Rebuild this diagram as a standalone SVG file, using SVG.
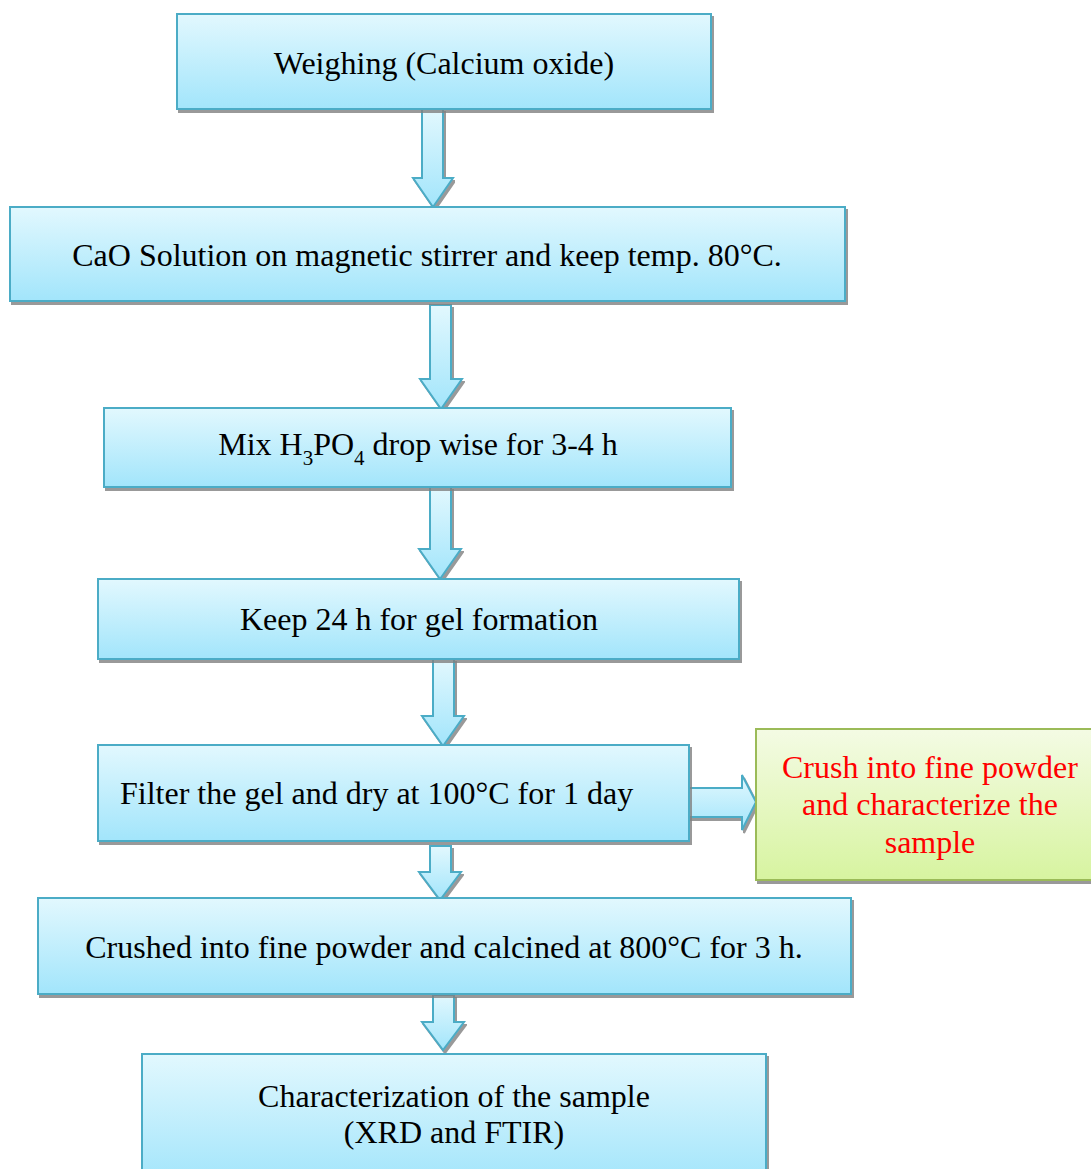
<svg xmlns="http://www.w3.org/2000/svg" width="1091" height="1169" viewBox="0 0 1091 1169">
<defs>
<linearGradient id="blue" x1="0" y1="0" x2="0" y2="1">
<stop offset="0" stop-color="#e2f8fe"/>
<stop offset="1" stop-color="#a2e5fb"/>
</linearGradient>
<linearGradient id="green" x1="0" y1="0" x2="0" y2="1">
<stop offset="0" stop-color="#f4fbe4"/>
<stop offset="1" stop-color="#d7f4a0"/>
</linearGradient>
<filter id="sh" x="-5%" y="-5%" width="110%" height="120%">
<feDropShadow dx="2" dy="3" stdDeviation="0.6" flood-color="#808080" flood-opacity="0.8"/>
</filter>
</defs>
<style>
.box{fill:url(#blue);stroke:#4bacc6;stroke-width:2;filter:url(#sh)}
.gbox{fill:url(#green);stroke:#9bbb59;stroke-width:2;filter:url(#sh)}
.arr{fill:url(#blue);stroke:#4bacc6;stroke-width:2;stroke-linejoin:miter;filter:url(#sh)}
.t{font-family:'Liberation Serif','Times New Roman',serif;font-size:32px;fill:#000;text-anchor:middle}
.s{text-anchor:start}
.r{fill:#ff0000}
</style>
<g id="connectors">
<path class="arr" d="M422,109 H443 V178 H453 L433,207 L413,178 H422 Z"/>
<path class="arr" d="M430,305 H451 V379 H462 L441,409 L420,379 H430 Z"/>
<path class="arr" d="M430,487 H451 V549 H461 L440,579 L419,549 H430 Z"/>
<path class="arr" d="M433,659 H454 V716 H464 L443,746 L422,716 H433 Z"/>
<path class="arr" d="M689,788 H742 V775 L756,802 L742,830 V817 H689 Z"/>
<path class="arr" d="M430,846 H451 V872 H461 L440,900 L419,872 H430 Z"/>
<path class="arr" d="M433,995 H454 V1022 H464 L443,1050 L422,1022 H433 Z"/>
</g>
<g id="n1">
<rect class="box" x="177" y="14" width="534" height="95"/>
<text class="t" x="444" y="74">Weighing (Calcium oxide)</text>
</g>
<g id="n2">
<rect class="box" x="10" y="207" width="835" height="94"/>
<text class="t" x="427" y="266">CaO Solution on magnetic stirrer and keep temp. 80°C.</text>
</g>
<g id="n3">
<rect class="box" x="104" y="408" width="627" height="79"/>
<text class="t" x="418" y="455">Mix H<tspan font-size="21" dy="10">3</tspan><tspan dy="-10">PO</tspan><tspan font-size="21" dy="10">4</tspan><tspan dy="-10"> drop wise for 3-4 h</tspan></text>
</g>
<g id="n4">
<rect class="box" x="98" y="579" width="641" height="80"/>
<text class="t" x="419" y="630">Keep 24 h for gel formation</text>
</g>
<g id="n5">
<rect class="box" x="98" y="745" width="591" height="96"/>
<text class="t s" x="120" y="804">Filter the gel and dry at 100°C for 1 day</text>
</g>
<g id="n5b">
<rect class="gbox" x="756" y="729" width="345" height="151"/>
<text class="t r" x="930" y="778">Crush into fine powder</text>
<text class="t r" x="930" y="815">and characterize the</text>
<text class="t r" x="930" y="853">sample</text>
</g>
<g id="n6">
<rect class="box" x="38" y="898" width="813" height="96"/>
<text class="t" x="444" y="958">Crushed into fine powder and calcined at 800°C for 3 h.</text>
</g>
<g id="n7">
<rect class="box" x="142" y="1054" width="624" height="130"/>
<text class="t" x="454" y="1107">Characterization of the sample</text>
<text class="t" x="454" y="1143">(XRD and FTIR)</text>
</g>
</svg>
